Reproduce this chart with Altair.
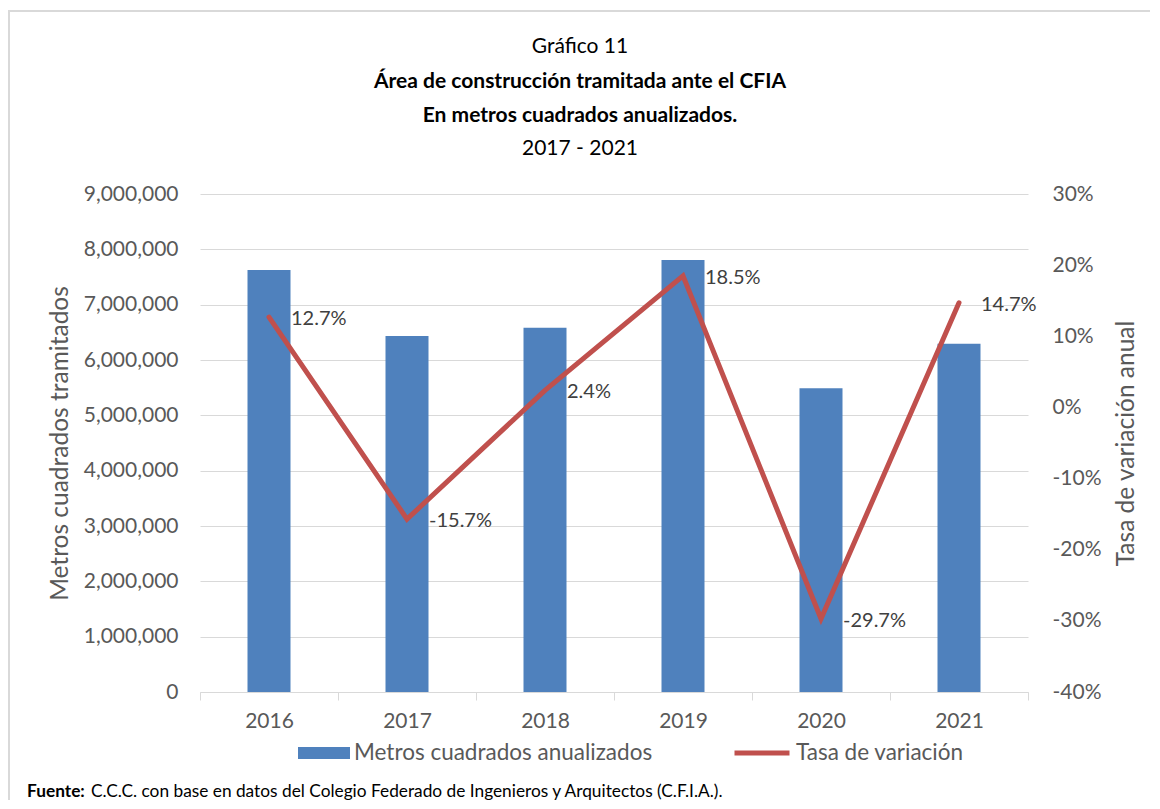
import altair as alt
import pandas as pd

# ---- data ----
years = ["2016", "2017", "2018", "2019", "2020", "2021"]
metros = [7627000, 6434000, 6584000, 7807000, 5489000, 6295000]
tasa = [12.7, -15.7, 2.4, 18.5, -29.7, 14.7]
left_ticks = [0, 1000000, 2000000, 3000000, 4000000, 5000000, 6000000, 7000000, 8000000, 9000000]
right_ticks = [-40, -30, -20, -10, 0, 10, 20, 30]

bar_series = "Metros cuadrados anualizados"
line_series = "Tasa de variación"
title_lines = ["Gráfico 11", "Área de construcción tramitada ante el CFIA",
               "En metros cuadrados anualizados.", "2017 - 2021"]
title_bold = [False, True, True, False]
source_bold = "Fuente:"
source_text = "C.C.C. con base en datos del Colegio Federado de Ingenieros y Arquitectos (C.F.I.A.)."

FONT = "Lato"
GREY = "#595959"
GRID = "#d9d9d9"

df = pd.DataFrame({"anio": years, "metros": metros, "tasa": tasa,
                   "s_bar": bar_series, "s_line": line_series})

x_enc = alt.X("anio:N", sort=years, title=None,
              scale=alt.Scale(paddingInner=0, paddingOuter=0),
              axis=alt.Axis(labelFontSize=21, labelColor=GREY, labelFont=FONT, labelAngle=0,
                            labelPadding=10, domainColor=GRID, domainWidth=1,
                            tickColor=GRID, tickSize=8, tickBand="extent", grid=False))

bars = alt.Chart(df).mark_bar(size=43).encode(
    x=x_enc,
    y=alt.Y("metros:Q", scale=alt.Scale(domain=[0, 9000000]),
            axis=alt.Axis(title="Metros cuadrados tramitados", values=left_ticks, format=",d",
                          labelFontSize=21, labelColor=GREY, labelFont=FONT, labelPadding=22,
                          ticks=False, domain=False, grid=True, gridColor=GRID, gridWidth=1,
                          titleFontSize=24.5, titleFont=FONT, titleColor=GREY, titleFontWeight="normal",
                          titleX=-140, titleY=249, titleAngle=270, titleAlign="center",
                          titleBaseline="middle")),
    color=alt.Color("s_bar:N", scale=alt.Scale(domain=[bar_series], range=["#4F81BD"]),
                    legend=alt.Legend(title=None, orient="none", legendX=98, legendY=533,
                                      symbolType="M-1,-0.23H1V0.23H-1Z", symbolSize=2704,
                                      symbolStrokeWidth=0, labelFontSize=22.5, labelColor=GREY,
                                      labelFont=FONT, labelOffset=4, labelLimit=0, padding=0)),
)

base_line = alt.Chart(df).transform_calculate(
    label="toString(datum.tasa) + '%'"
).encode(
    x=x_enc,
    y=alt.Y("tasa:Q", scale=alt.Scale(domain=[-40, 30]),
            axis=alt.Axis(orient="right", title="Tasa de variación anual", values=right_ticks,
                          labelExpr="datum.value + '%'", labelFontSize=21, labelColor=GREY,
                          labelFont=FONT, labelPadding=24, ticks=False, domain=False, grid=False,
                          titleFontSize=24.5, titleFont=FONT, titleColor=GREY, titleFontWeight="normal",
                          titleX=98, titleY=249, titleAngle=270, titleAlign="center",
                          titleBaseline="middle")),
)

line = base_line.mark_line(strokeWidth=5, strokeCap="round", strokeJoin="miter").encode(
    stroke=alt.Stroke("s_line:N", scale=alt.Scale(domain=[line_series], range=["#C0504D"]),
                      legend=alt.Legend(title=None, orient="none", legendX=532, legendY=529,
                                        symbolType="stroke", symbolSize=3025, symbolStrokeWidth=5,
                                        labelFontSize=22.5, labelColor=GREY, labelFont=FONT,
                                        labelOffset=4, labelLimit=0, padding=0))
)
labels = base_line.mark_text(align="left", baseline="middle", dx=22, dy=2, fontSize=20,
                             color="#404040", font=FONT).encode(text="label:N")

# chart frame (top and left edges only; the rest lies outside the picture)
one = pd.DataFrame({"k": [0]})
frame_top = alt.Chart(one).mark_rule(stroke=GRID, strokeWidth=2).encode(
    x=alt.value(-191), x2=alt.value(950), y=alt.value(-183))
frame_left = alt.Chart(one).mark_rule(stroke=GRID, strokeWidth=2).encode(
    x=alt.value(-191), y=alt.value(-184), y2=alt.value(606))

# title lines
title_y = [-147, -112, -78, -45]
title_layers = []
for txt, bold, ty in zip(title_lines, title_bold, title_y):
    title_layers.append(
        alt.Chart(pd.DataFrame({"t": [txt]})).mark_text(
            fontSize=21, font=FONT, color="#000000", fontWeight="bold" if bold else "normal",
            align="center", baseline="middle"
        ).encode(text="t:N", x=alt.value(380), y=alt.value(ty))
    )

src1 = alt.Chart(pd.DataFrame({"t": [source_bold]})).mark_text(
    fontSize=17.3, font=FONT, color="#000000", fontWeight="bold", align="left", baseline="middle"
).encode(text="t:N", x=alt.value(-173), y=alt.value(598))
src2 = alt.Chart(pd.DataFrame({"t": [source_text]})).mark_text(
    fontSize=17.3, font=FONT, color="#000000", align="left", baseline="middle"
).encode(text="t:N", x=alt.value(-109), y=alt.value(598))

chart = alt.layer(
    bars, alt.layer(line, labels), frame_top, frame_left, *title_layers, src1, src2
).resolve_scale(y="independent").properties(
    width=828, height=498,
    autosize=alt.AutoSizeParams(type="none"),
    padding={"left": 192, "top": 186, "right": 124, "bottom": 109},
    background="white",
).configure_view(stroke=None)

chart.save("out.html", embed_options={"renderer": "svg", "actions": False})
